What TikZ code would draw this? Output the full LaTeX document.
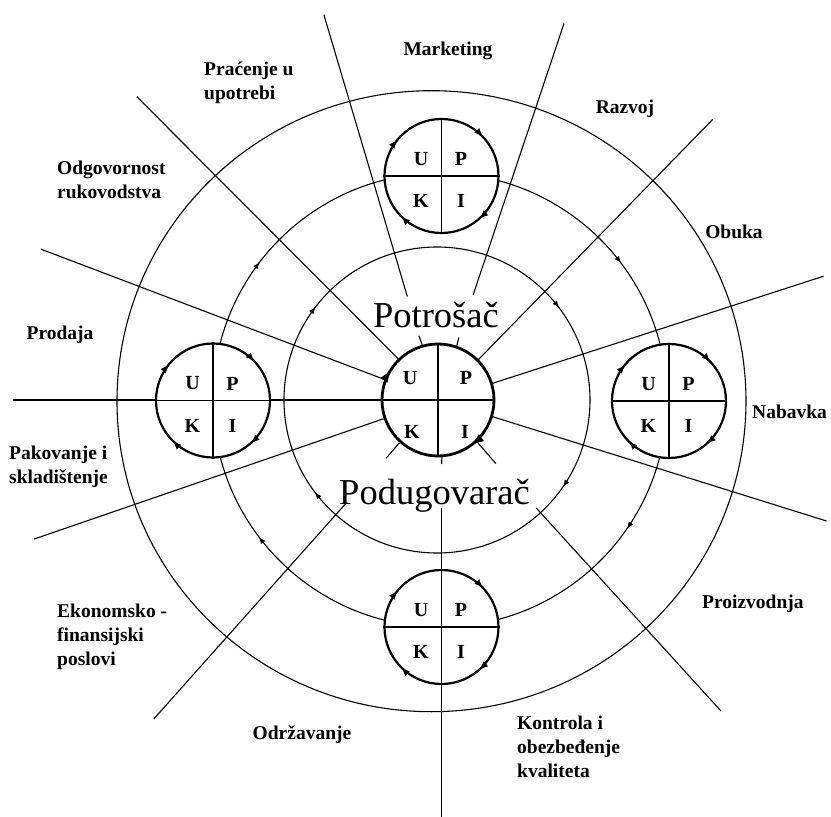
\documentclass[tikz,border=0pt]{standalone}
\usepackage{fontspec}
\setmainfont{Liberation Serif}
\usetikzlibrary{arrows.meta,decorations.markings}

\tikzset{
  malavrh/.tip={Latex[length=9pt,width=7pt]},
  tankivrh/.tip={Latex[length=7pt,width=5.5pt]},
  velikivrh/.tip={Latex[length=13pt,width=9pt]},
  tanka/.style={line width=1.1pt},
  krug/.style={circle, draw, fill=white, line width=2.2pt, minimum size=114pt, inner sep=0pt},
  slovo/.style={font=\fontsize{20}{22}\selectfont\bfseries, inner sep=0pt},
  oznaka/.style={font=\fontsize{19.5}{24}\selectfont\bfseries, align=left, inner sep=0pt},
  veliki/.style={font=\fontsize{36.5}{40}\selectfont, inner sep=0pt},
  kolo/.style={postaction={decorate}, decoration={markings,
      mark=at position 0.12 with {\arrowreversed{malavrh}},
      mark=at position 0.39 with {\arrowreversed{malavrh}},
      mark=at position 0.625 with {\arrowreversed{malavrh}},
      mark=at position 0.865 with {\arrowreversed{malavrh}}}},
  tok/.style={postaction={decorate}, decoration={markings,
      mark=at position 0.103 with {\arrowreversed{tankivrh}},
      mark=at position 0.396 with {\arrowreversed{tankivrh}},
      mark=at position 0.603 with {\arrowreversed{tankivrh}},
      mark=at position 0.904 with {\arrowreversed{tankivrh}}}},
  sredina/.style={postaction={decorate}, decoration={markings,
      mark=at position 0.408 with {\arrowreversed{velikivrh}},
      mark=at position 0.85 with {\arrowreversed{velikivrh}}}},
}

\begin{document}
\begin{tikzpicture}[x=1pt, y=1pt]
    \useasboundingbox (-438,-417) rectangle (393,400);

    % three rings
    \draw[tanka] (-6.5,-1.2) ellipse[x radius=314.5, y radius=310.5];
    \draw[tanka, tok] (-1,0) circle[radius=153];
    \draw[tanka, tok] (2,0) circle[radius=227];

    % centre
    \node[krug, line width=2.8pt, minimum size=112pt, sredina] (potr) at (0,0) {};
    \draw[tanka] (potr.north) -- (potr.south);
    \draw[tanka] (potr.west) -- (potr.east);
    \node[slovo] (cu) at (-28,22) {U};
    \node[slovo] (cp) at (28,22) {P};
    \node[slovo] (ck) at (-26,-32) {K};
    \node[slovo] (ci) at (27,-32) {I};

    % rays from the centre
    \foreach \a/\l in {134.8/427.5, 159.2/425, 180/425, 199/427, 45.6/393, 17.8/405, -17.3/407}
        \draw[tanka] (potr.\a) -- (\a:\l);
    \draw[tanka] (potr.106.5) -- (106.5:67);
    \draw[tanka] (106.5:108) -- (106.5:402);
    \draw[tanka] (potr.71.5) -- (71.5:66);
    \draw[tanka] (71.5:111) -- (71.5:397);
    \draw[tanka] (potr.228.3) -- (228.3:78);
    \draw[tanka] (228.3:139) -- (228.3:427);
    \draw[tanka] (potr.-47.7) -- (-47.7:86);
    \draw[tanka] (-47.7:146) -- (-47.7:420.5);
    \draw[tanka] (potr.-86) -- (3.5,-64);
    \coordinate (dno) at (3.5,-417);
    \draw[tanka] (3.5,-108) -- (dno);

    % the four small wheels
    \foreach \nm/\x/\y in {vrh/3.5/224, levo/-225/-0.5, desno/231/-1, dole/3.5/-227} {
        \node[krug, kolo] (\nm) at (\x,\y) {};
        \draw[tanka] (\nm.north) -- (\nm.south);
        \draw[tanka] (\nm.west) -- (\nm.east);
        \node[slovo] at ([shift={(-20.5,17)}]\nm.center) {U};
        \node[slovo] at ([shift={(19.5,17)}]\nm.center) {P};
        \node[slovo] at ([shift={(-20.5,-25)}]\nm.center) {K};
        \node[slovo] at ([shift={(19.5,-25)}]\nm.center) {I};
    }

    \node[veliki, anchor=base] (potrosac) at (-2,72) {Potrošač};
    \node[veliki, anchor=base] (podug) at (-3.5,-104) {Podugovarač};

    % sector names
    \node[oznaka] (mark) at (10,349) {Marketing};
    \node[oznaka, anchor=north west] (prac) at (-234,338) {Praćenje u\\upotrebi};
    \node[oznaka] (razv) at (187,291) {Razvoj};
    \node[oznaka, anchor=north west] (odg) at (-381,239) {Odgovornost\\rukovodstva};
    \node[oznaka] (obuka) at (296,168) {Obuka};
    \node[oznaka] (prod) at (-378,65) {Prodaja};
    \node[oznaka, anchor=west] (nab) at (314,-12) {Nabavka};
    \node[oznaka, anchor=north west] (pak) at (-429,-46) {Pakovanje i\\skladištenje};
    \node[oznaka, anchor=west] (proiz) at (264,-204) {Proizvodnja};
    \node[oznaka, anchor=north west] (ekon) at (-381,-204) {Ekonomsko -\\finansijski\\poslovi};
    \node[oznaka] (odrz) at (-136,-335) {Održavanje};
    \node[oznaka, anchor=north west] (kontr) at (79,-316) {Kontrola i\\obezbeđenje\\kvaliteta};
\end{tikzpicture}
\end{document}
